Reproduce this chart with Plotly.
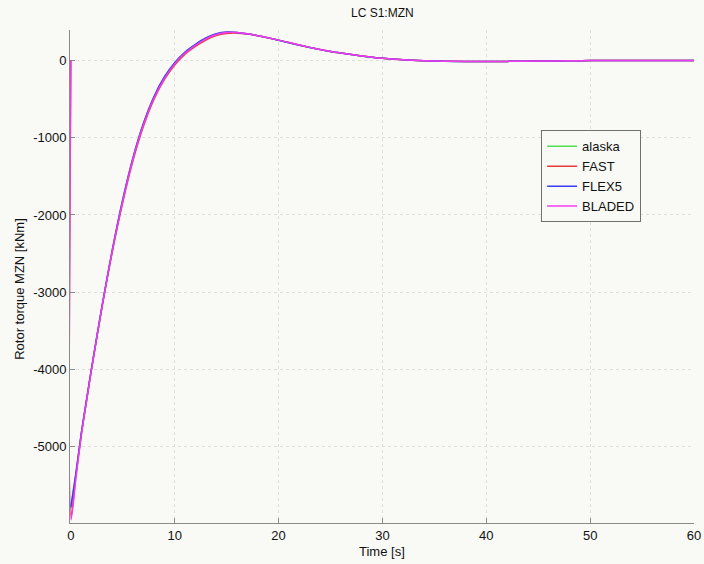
import plotly.graph_objects as go

# Rotor torque time series, load case S1, four simulation codes
time_s = [0, 0.02, 0.5, 1, 1.5, 2, 3, 4, 5, 6, 7, 8, 9, 10, 11, 12, 13, 14, 15,
          16, 17, 18, 19, 20, 21, 22, 23, 24, 25, 26, 27, 28, 29, 30, 32, 34,
          36, 38, 40, 42, 45, 48, 50, 55, 60]

mzn_alaska = [-5800, -5780, -5340, -4835, -4405, -3982, -3183, -2450, -1805, -1256,
              -815, -475, -220, -35, 104, 204, 287, 342, 365, 362, 344, 319, 291,
              261, 229, 197, 167, 139, 114, 94, 76, 57, 40, 26, 7, -5, -12, -14,
              -15, -13, -9, -5, -3, -1, 0]
mzn_fast = [0, -5900, -5360, -4845, -4410, -3985, -3195, -2470, -1835, -1290,
            -850, -505, -250, -60, 80, 180, 262, 320, 348, 352, 340, 318, 291,
            262, 230, 198, 168, 140, 115, 95, 77, 58, 41, 27, 8, -4, -11, -14,
            -15, -13, -9, -5, -3, -1, 0]
mzn_flex5 = [-5780, -5760, -5330, -4830, -4400, -3980, -3180, -2445, -1800, -1250,
             -810, -470, -215, -30, 108, 208, 290, 344, 366, 362, 344, 319, 291,
             261, 229, 197, 167, 139, 114, 94, 76, 57, 40, 26, 7, -5, -12, -14,
             -15, -13, -9, -5, -3, -1, 0]
mzn_bladed = [0, -5945, -5390, -4860, -4420, -3990, -3190, -2460, -1820, -1270,
              -830, -490, -235, -45, 95, 195, 278, 335, 362, 362, 345, 320, 292,
              262, 230, 198, 168, 140, 115, 95, 77, 58, 41, 27, 8, -4, -11, -14,
              -15, -13, -9, -5, -3, -1, 0]

series = [
    ("alaska", mzn_alaska, "#4ee04e"),
    ("FAST", mzn_fast, "#e83a3a"),
    ("FLEX5", mzn_flex5, "#3c3cf5"),
    ("BLADED", mzn_bladed, "#f03cf0"),
]

x_ticks = [0, 10, 20, 30, 40, 50, 60]
y_ticks = [-5000, -4000, -3000, -2000, -1000, 0]
y_tick_text = ["-5000", "-4000", "-3000", "-2000", "-1000", "0"]

BG = "#f9f9f6"
FONT = "Liberation Sans, Arial, sans-serif"

fig = go.Figure()
for name, vals, color in series:
    fig.add_trace(go.Scatter(x=time_s, y=vals, mode="lines", name=name,
                             line=dict(color=color, width=1.5,
                                       shape="spline", smoothing=0.8)))

axis_common = dict(
    showline=True, linecolor="#8a8a8a", linewidth=1, mirror=False,
    ticks="inside", ticklen=5, tickcolor="#8a8a8a",
    showgrid=True, gridcolor="#dedede", griddash="dot", gridwidth=1,
    zeroline=False, tickfont=dict(family=FONT, size=13, color="#111111"),
    layer="below traces", automargin=False,
)

fig.update_layout(
    width=704, height=564,
    paper_bgcolor=BG, plot_bgcolor=BG,
    margin=dict(l=70, r=10, t=30, b=41, autoexpand=False),
    font=dict(family=FONT, size=13, color="#111111"),
    # a sliver below t=0 keeps the initial step at t=0 visible
    xaxis=dict(range=[-0.08, 60], tickvals=x_ticks, **axis_common),
    yaxis=dict(range=[-5985, 393], tickvals=y_ticks, ticktext=y_tick_text,
               **axis_common),
    showlegend=True,
    legend=dict(x=0.755, y=0.703, xanchor="left", yanchor="middle",
                bgcolor=BG, bordercolor="#707070", borderwidth=1,
                font=dict(family=FONT, size=13, color="#111111"),
                tracegroupgap=0),
    annotations=[
        dict(text="LC S1:MZN", xref="paper", yref="paper", x=0.5, y=1,
             yanchor="middle", yshift=17, showarrow=False, font=dict(size=12)),
        dict(text="Time [s]", xref="paper", yref="paper", x=0.5, y=0,
             yanchor="middle", yshift=-28, showarrow=False, font=dict(size=13)),
        dict(text="Rotor torque MZN [kNm]", xref="paper", yref="paper",
             x=0, y=0.475, xanchor="center", yanchor="middle", xshift=-50,
             textangle=-90, showarrow=False, font=dict(size=13)),
    ],
)

fig.write_html("out.html")
